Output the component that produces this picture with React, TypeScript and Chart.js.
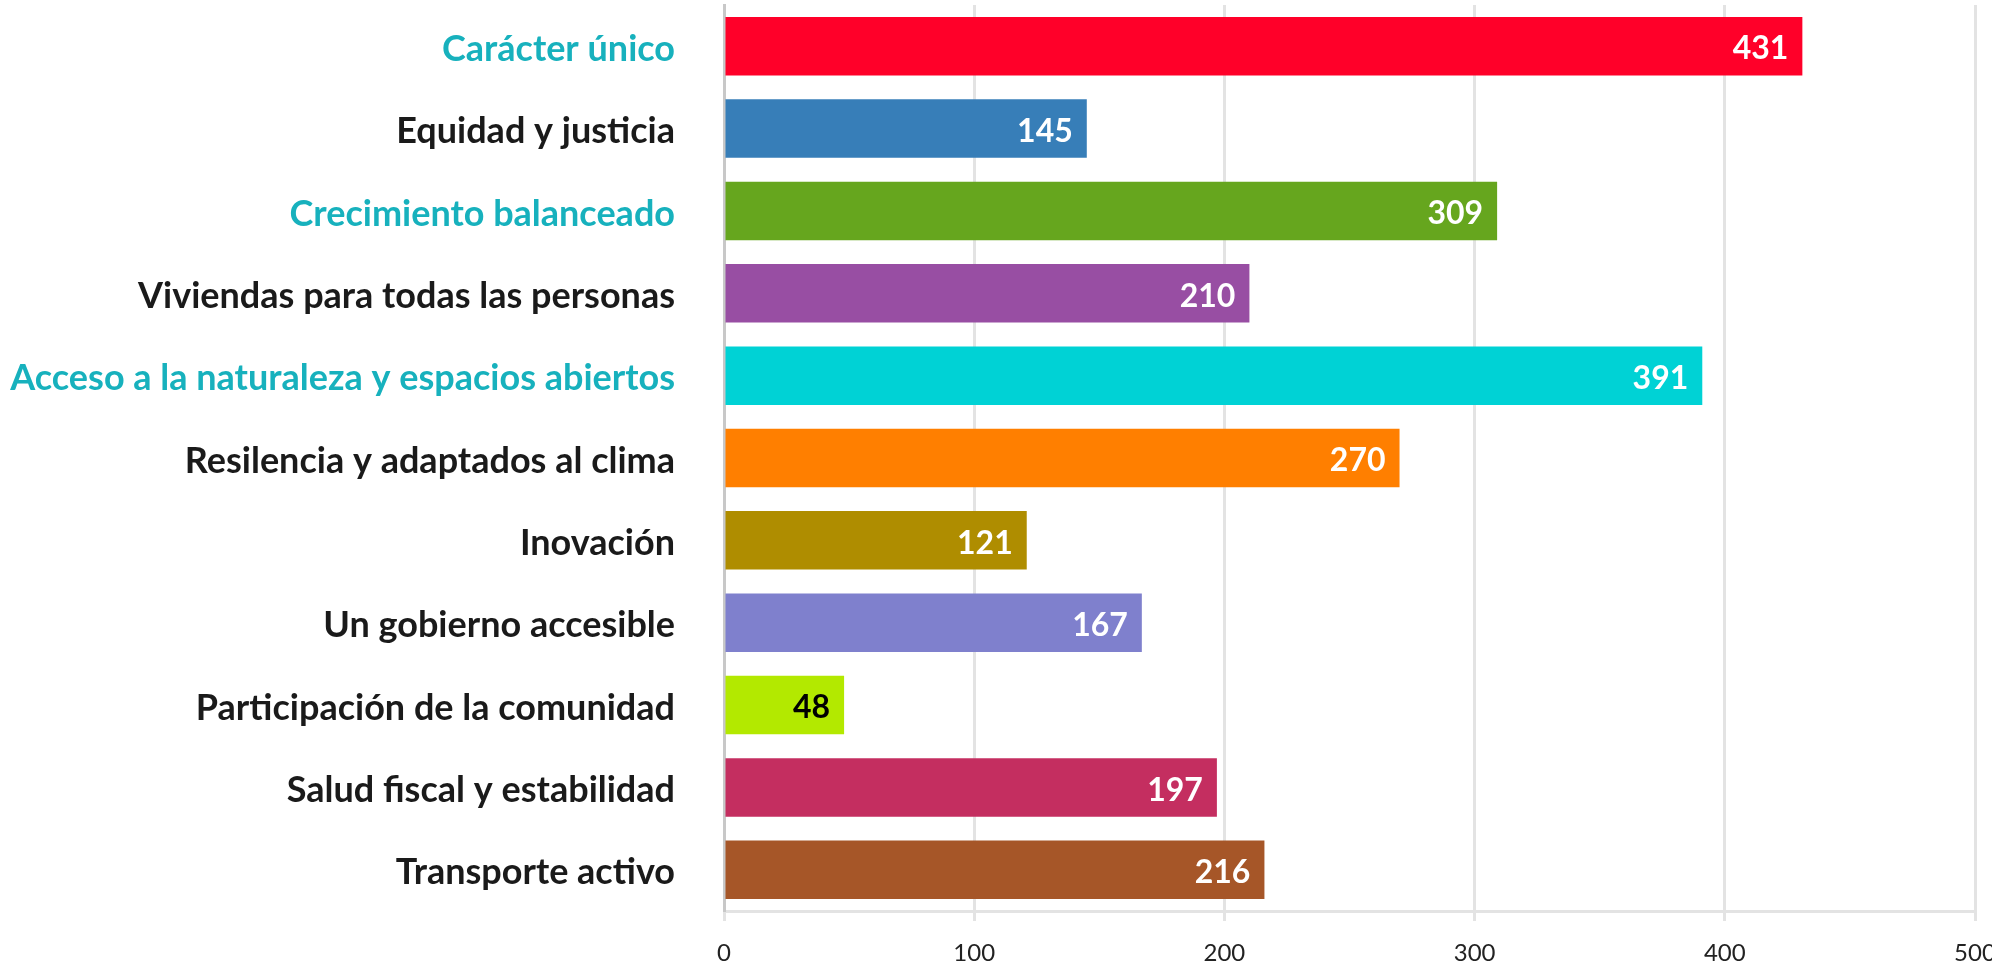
import React, { useEffect, useRef } from "react";
import { Chart, registerables } from "chart.js";

Chart.register(...registerables);

const categories = [
  "Carácter único",
  "Equidad y justicia",
  "Crecimiento balanceado",
  "Viviendas para todas las personas",
  "Acceso a la naturaleza y espacios abiertos",
  "Resilencia y adaptados al clima",
  "Inovación",
  "Un gobierno accesible",
  "Participación de la comunidad",
  "Salud fiscal y estabilidad",
  "Transporte activo",
];

const values = [431, 145, 309, 210, 391, 270, 121, 167, 48, 197, 216];

const barColors = [
  "#ff0029",
  "#377eb8",
  "#66a61e",
  "#984ea3",
  "#00d2d5",
  "#ff7f00",
  "#af8d00",
  "#7f80cd",
  "#b3e900",
  "#c42e60",
  "#a65628",
];

const categoryLabelColors = [
  "#17b1bd",
  "#1a1a1a",
  "#17b1bd",
  "#1a1a1a",
  "#17b1bd",
  "#1a1a1a",
  "#1a1a1a",
  "#1a1a1a",
  "#1a1a1a",
  "#1a1a1a",
  "#1a1a1a",
];

const valueLabelColors = [
  "#ffffff",
  "#ffffff",
  "#ffffff",
  "#ffffff",
  "#ffffff",
  "#ffffff",
  "#ffffff",
  "#ffffff",
  "#000000",
  "#ffffff",
  "#ffffff",
];

const xTicks = [0, 100, 200, 300, 400, 500];

const FONT = "Lato, 'Open Sans', 'Noto Sans', sans-serif";

const valueLabelPlugin = {
  id: "valueLabels",
  afterDatasetsDraw(chart: any) {
    const ctx = chart.ctx;
    const meta = chart.getDatasetMeta(0);
    ctx.save();
    ctx.font = `bold 32px ${FONT}`;
    ctx.textAlign = "right";
    ctx.textBaseline = "middle";
    meta.data.forEach((bar: any, i: number) => {
      ctx.fillStyle = valueLabelColors[i];
      ctx.fillText(String(values[i]), bar.x - 14, bar.y + 3);
    });
    ctx.restore();
  },
};

export default function App() {
  const canvasRef = useRef<HTMLCanvasElement | null>(null);

  useEffect(() => {
    if (!canvasRef.current) return;
    const chart = new Chart(canvasRef.current, {
      type: "bar",
      data: {
        labels: categories,
        datasets: [
          {
            data: values,
            backgroundColor: barColors,
            borderWidth: 0,
            barPercentage: 0.71,
            categoryPercentage: 1,
          },
        ],
      },
      options: {
        indexAxis: "y",
        responsive: false,
        animation: false,
        layout: { padding: { top: 5, right: 17, left: 0, bottom: 0 } },
        plugins: {
          legend: { display: false },
          tooltip: { enabled: false },
        },
        scales: {
          x: {
            min: 0,
            max: 500,
            afterBuildTicks: (scale: any) => {
              scale.ticks = xTicks.map((v) => ({ value: v }));
            },
            afterFit: (scale: any) => {
              scale.height = 60;
              scale.paddingLeft = 0;
              scale.paddingRight = 0;
            },
            grid: {
              color: "#e3e3e3",
              lineWidth: 3,
              tickLength: 10,
              drawTicks: true,
            },
            border: { display: true, color: "#e3e3e3", width: 3 },
            ticks: {
              color: "#222222",
              font: { family: FONT, size: 24 },
              padding: 18,
            },
          },
          y: {
            afterFit: (scale: any) => {
              scale.width = 724;
              scale.paddingTop = 0;
              scale.paddingBottom = 0;
            },
            grid: { display: false, drawTicks: false },
            border: { display: true, color: "#c8c8c8", width: 3 },
            ticks: {
              color: (c: any) => categoryLabelColors[c.index],
              font: { family: FONT, size: 36, weight: "bold" },
              padding: 49,
              labelOffset: 3,
            },
          },
        },
      },
      plugins: [valueLabelPlugin],
    });
    return () => chart.destroy();
  }, []);

  return (
    <div style={{ position: "fixed", left: 0, top: 0, width: 1992, height: 971, background: "#ffffff" }}>
      <canvas ref={canvasRef} width={1992} height={971} style={{ width: 1992, height: 971, display: "block" }} />
    </div>
  );
}
